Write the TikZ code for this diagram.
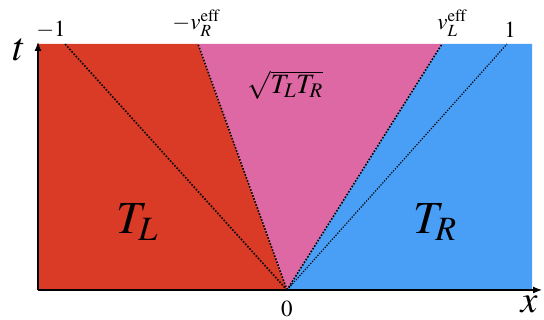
\documentclass[tikz,border=0pt]{standalone}
\usepackage{mathptmx}
\usetikzlibrary{arrows.meta}
\definecolor{hotred}{RGB}{217,59,39}
\definecolor{midpink}{RGB}{221,104,163}
\definecolor{coldblue}{RGB}{73,158,245}
\begin{document}
\begin{tikzpicture}[x=1pt,y=1pt,
  cone/.style={dash pattern=on 1.6pt off 1.6pt,line width=1.6pt},
  axis/.style={line width=1.2pt,-{Latex[length=9pt,width=7pt]}},
  tick/.style={font=\fontsize{23}{25}\selectfont},
  big/.style={font=\fontsize{46}{50}\selectfont}]
  \useasboundingbox (-287,-30) rectangle (257,290);
  % corners and top ends of the rays
  \coordinate (O) at (0,0);
  \coordinate (BL) at (-249,0);
  \coordinate (TL) at (-249,246);
  \coordinate (TR) at (245,246);
  \coordinate (BR) at (245,0);
  \coordinate (m1) at (-222,246);
  \coordinate (vR) at (-89,246);
  \coordinate (vL) at (155,246);
  \coordinate (p1) at (220,246);
  \fill[hotred] (BL) -- (TL) -- (vR) -- (O) -- cycle;
  \fill[midpink] (O) -- (vR) -- (vL) -- cycle;
  \fill[coldblue] (O) -- (vL) -- (TR) -- (BR) -- cycle;
  \draw[cone] (O) -- (m1);
  \draw[cone] (O) -- (vR);
  \draw[cone] (O) -- (vL);
  \draw[cone,line width=1.2pt,dash pattern=on 1.2pt off 1.5pt] (O) -- (p1);
  \coordinate (xend) at (255,0);
  \coordinate (tend) at (-249,248);
  \draw[axis] (BL) -- (xend);
  \draw[axis] (BL) -- (tend);
  \node[font=\fontsize{40}{42}\selectfont] (tlab) at (-268,240) {$t$};
  \node[font=\fontsize{38}{40}\selectfont,inner sep=0pt] (xlab) at (242,-14) {$x$};
  \node[tick] (zero) at (0,-19) {$0$};
  \node[tick] (lm1) at (-236,260) {$-1$};
  \node[tick] (lvR) at (-91,267) {$-v_R^{\mathrm{eff}}$};
  \node[tick] (lvL) at (165,267) {$v_L^{\mathrm{eff}}$};
  \node[tick] (lp1) at (223,260) {$1$};
  \node[big] (TLlab) at (-150,68) {$T_L$};
  \node[big] (TRlab) at (148,68) {$T_R$};
  \node[font=\fontsize{28}{32}\selectfont] (mid) at (-2,205) {$\sqrt{T_LT_R}$};
\end{tikzpicture}
\end{document}
